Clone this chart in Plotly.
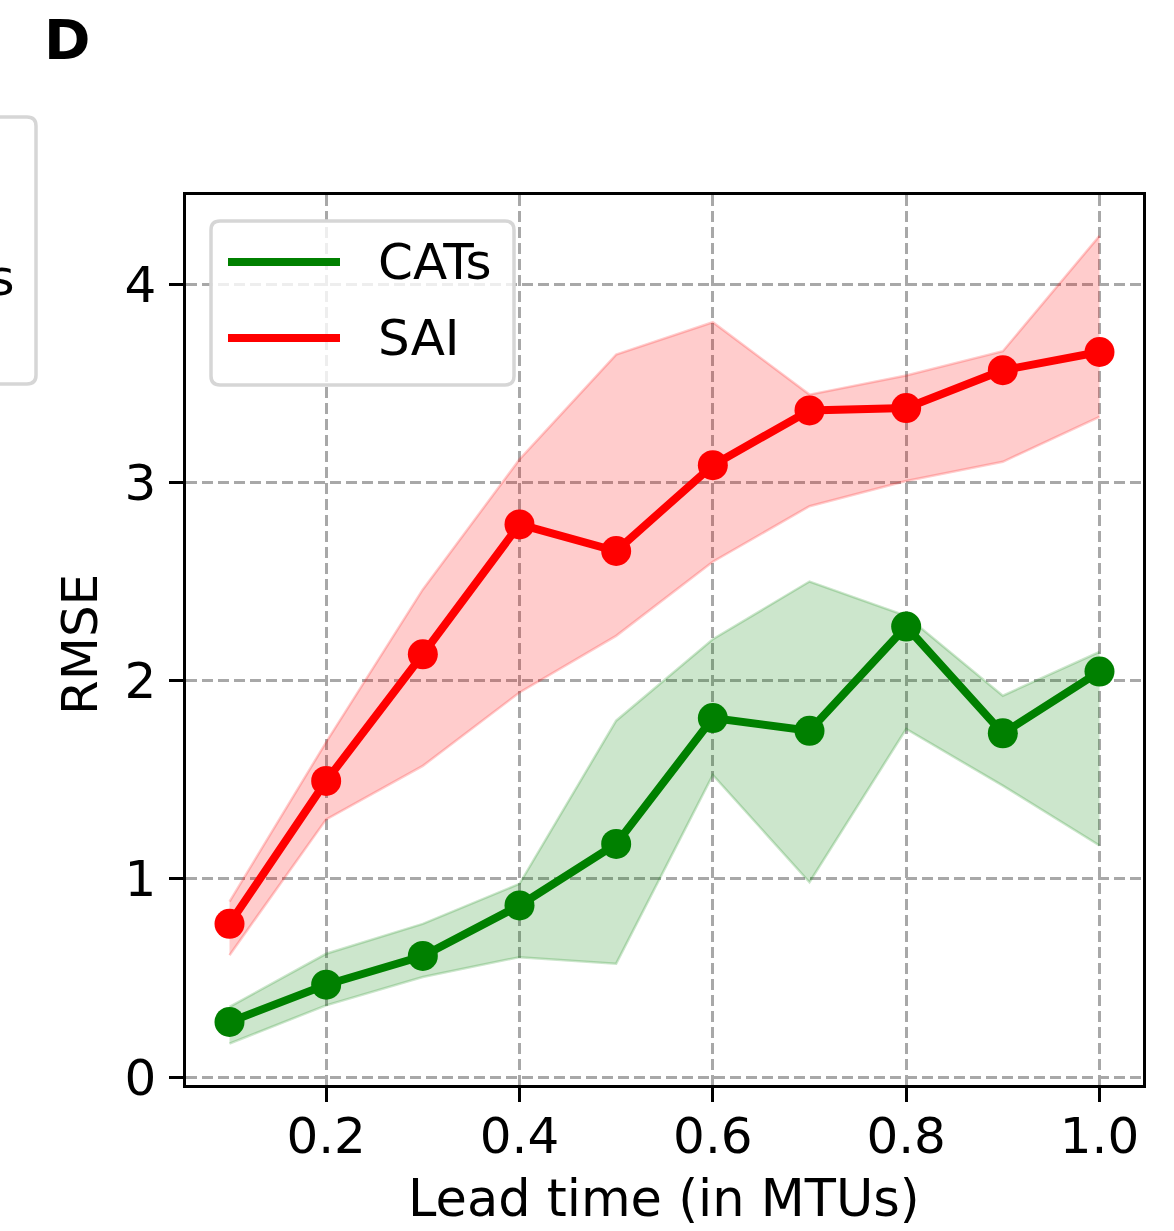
import plotly.graph_objects as go

lead_time = [0.1, 0.2, 0.3, 0.4, 0.5, 0.6, 0.7, 0.8, 0.9, 1.0]

cats_mean = [0.278, 0.466, 0.611, 0.866, 1.176, 1.811, 1.747, 2.273, 1.734, 2.046]
cats_upper = [0.354, 0.622, 0.773, 0.975, 1.798, 2.209, 2.500, 2.327, 1.924, 2.145]
cats_lower = [0.169, 0.362, 0.505, 0.605, 0.572, 1.524, 0.983, 1.756, 1.470, 1.168]

sai_mean = [0.773, 1.494, 2.133, 2.788, 2.654, 3.087, 3.363, 3.375, 3.566, 3.658]
sai_upper = [0.885, 1.690, 2.460, 3.116, 3.645, 3.808, 3.443, 3.539, 3.662, 4.244]
sai_lower = [0.615, 1.300, 1.570, 1.940, 2.226, 2.600, 2.880, 3.007, 3.104, 3.331]

x_ticks = [0.2, 0.4, 0.6, 0.8, 1.0]
x_tick_labels = ["0.2", "0.4", "0.6", "0.8", "1.0"]
y_ticks = [0, 1, 2, 3, 4]
y_tick_labels = ["0", "1", "2", "3", "4"]

W, H = 1174, 1231
L, R, T, B = 186, 1143, 195, 1085
FONT = "DejaVu Sans"


def px(xp):
    return (xp - L) / (R - L)


def py(yp):
    return (B - yp) / (B - T)


fig = go.Figure()

series = [
    ("CATs", cats_mean, cats_upper, cats_lower, "#008000", "rgba(0,128,0,0.2)"),
    ("SAI", sai_mean, sai_upper, sai_lower, "#ff0000", "rgba(255,0,0,0.2)"),
]

for name, mean, up, lo, col, fillcol in series:
    fig.add_trace(go.Scatter(x=lead_time, y=lo, mode="lines",
                             line=dict(color=fillcol, width=2.5),
                             showlegend=False, hoverinfo="skip"))
    fig.add_trace(go.Scatter(x=lead_time, y=up, mode="lines", fill="tonexty",
                             fillcolor=fillcol,
                             line=dict(color=fillcol, width=2.5),
                             showlegend=False, hoverinfo="skip"))

for name, mean, up, lo, col, fillcol in series:
    fig.add_trace(go.Scatter(x=lead_time, y=mean, mode="lines+markers", name=name,
                             line=dict(color=col, width=8),
                             marker=dict(color=col, size=30),
                             showlegend=False))

shapes = []
annotations = []


def rounded_rect(x0, y0, x1, y1, r):
    return (f"M {px(x0 + r)} {py(y0)} L {px(x1 - r)} {py(y0)} "
            f"Q {px(x1)} {py(y0)} {px(x1)} {py(y0 + r)} "
            f"L {px(x1)} {py(y1 - r)} Q {px(x1)} {py(y1)} {px(x1 - r)} {py(y1)} "
            f"L {px(x0 + r)} {py(y1)} Q {px(x0)} {py(y1)} {px(x0)} {py(y1 - r)} "
            f"L {px(x0)} {py(y0 + r)} Q {px(x0)} {py(y0)} {px(x0 + r)} {py(y0)} Z")


# main legend
shapes.append(dict(type="path", xref="paper", yref="paper",
                   path=rounded_rect(211, 221, 514, 385, 9),
                   fillcolor="rgba(255,255,255,0.8)",
                   line=dict(color="#d6d6d6", width=3.5), layer="above"))
for i, (name, mean, up, lo, col, fillcol) in enumerate(series):
    yc = 262 + i * 76
    shapes.append(dict(type="line", xref="paper", yref="paper",
                       x0=px(228), x1=px(340), y0=py(yc), y1=py(yc),
                       line=dict(color=col, width=8), layer="above"))
    annotations.append(dict(text=name, xref="paper", yref="paper",
                            x=px(376), y=py(yc), xanchor="left", yanchor="middle",
                            showarrow=False,
                            font=dict(family=FONT, size=50, color="black")))

# partially visible neighbouring legend at the left edge
shapes.append(dict(type="path", xref="paper", yref="paper",
                   path=rounded_rect(-320, 117, 36, 384, 9),
                   fillcolor="rgba(255,255,255,0.8)",
                   line=dict(color="#d6d6d6", width=3.5), layer="above"))
annotations.append(dict(text="CATs", xref="paper", yref="paper",
                        x=px(17), y=py(278), xanchor="right", yanchor="middle",
                        showarrow=False,
                        font=dict(family=FONT, size=50, color="black")))

# panel label
annotations.append(dict(text="<b>D</b>", xref="paper", yref="paper",
                        x=px(42), y=py(40), xanchor="left", yanchor="middle",
                        showarrow=False,
                        font=dict(family=FONT, size=56, color="black")))

# axis titles
annotations.append(dict(text="Lead time (in MTUs)", xref="paper", yref="paper",
                        x=px(664), y=py(1198), xanchor="center", yanchor="middle",
                        showarrow=False,
                        font=dict(family=FONT, size=51, color="black")))
annotations.append(dict(text="RMSE", xref="paper", yref="paper", textangle=-90,
                        x=px(80), y=py(645), xanchor="center", yanchor="middle",
                        showarrow=False,
                        font=dict(family=FONT, size=50, color="black")))

fig.update_layout(
    width=W, height=H,
    margin=dict(l=L, r=W - R, t=T, b=H - B, pad=0, autoexpand=False),
    plot_bgcolor="white", paper_bgcolor="white",
    font=dict(family=FONT, size=50, color="black"),
    shapes=shapes, annotations=annotations,
    showlegend=False,
)

axis_common = dict(
    showline=True, linecolor="black", linewidth=2.5, mirror=True,
    ticks="outside", ticklen=14, tickwidth=2.5, tickcolor="black",
    showgrid=True, gridcolor="#a8a8a8", gridwidth=3, griddash="11px,5px",
    zeroline=False, automargin=False,
    tickfont=dict(family=FONT, size=50, color="black"),
)

fig.update_xaxes(range=[0.055, 1.045], tickvals=x_ticks, ticktext=x_tick_labels,
                 ticklabelstandoff=-9, **axis_common)
fig.update_yaxes(range=[-0.04, 4.45], tickvals=y_ticks, ticktext=y_tick_labels,
                 ticklabelstandoff=3, **axis_common)

fig.write_html("out.html")
